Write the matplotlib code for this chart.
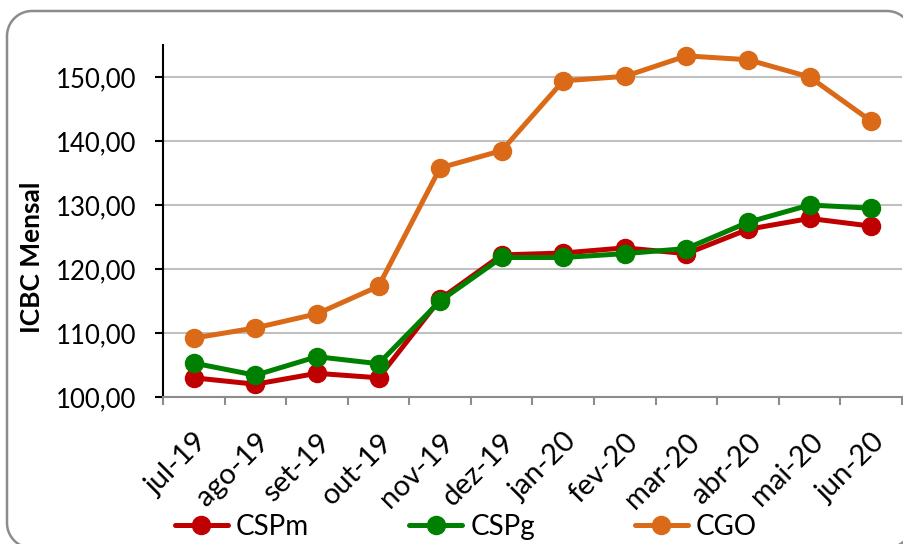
import numpy as np
import matplotlib.pyplot as plt
from matplotlib.lines import Line2D
from matplotlib.ticker import FuncFormatter

# dados do gráfico
meses = ["jul-19", "ago-19", "set-19", "out-19", "nov-19", "dez-19",
         "jan-20", "fev-20", "mar-20", "abr-20", "mai-20", "jun-20"]
cspm = [103.0, 102.0, 103.7, 103.0, 115.3, 122.2, 122.5, 123.3, 122.4, 126.2, 127.9, 126.7]
cspg = [105.3, 103.4, 106.3, 105.2, 115.0, 121.8, 121.8, 122.4, 123.2, 127.3, 130.0, 129.5]
cgo = [109.2, 110.8, 113.0, 117.3, 135.8, 138.5, 149.4, 150.1, 153.3, 152.7, 150.0, 143.1]
yticks = [100, 110, 120, 130, 140, 150]

plt.rcParams['font.family'] = ['Lato', 'DejaVu Sans']

W, H = 904, 544
fig = plt.figure(figsize=(W / 100, H / 100), dpi=100)

# moldura arredondada, em pixels a partir do canto inferior esquerdo
x0, x1, y0, y1, r = 7, 912, -4, 533, 25
bx, by = [], []
for cx, cy, a0 in [(x1 - r, y1 - r, 0), (x0 + r, y1 - r, 90),
                   (x0 + r, y0 + r, 180), (x1 - r, y0 + r, 270)]:
    ang = np.radians(np.linspace(a0, a0 + 90, 20))
    bx.extend(cx + r * np.cos(ang))
    by.extend(cy + r * np.sin(ang))
bx.append(bx[0])
by.append(by[0])
fig.add_artist(Line2D(np.array(bx) / 100, np.array(by) / 100,
                      transform=fig.dpi_scale_trans, color="#8c8c8c", linewidth=1.8))

ax = fig.add_axes([163 / W, 1 - 397 / H, 739 / W, 352 / H])

x = list(range(len(meses)))
estilo = dict(linewidth=3.6, marker="o", markersize=13, solid_capstyle="round")
ax.plot(x, cspm, color="#C00000", label="CSPm", **estilo)
ax.plot(x, cspg, color="#008000", label="CSPg", **estilo)
ax.plot(x, cgo, color="#DA6A18", label="CGO", **estilo)

ax.set_xlim(-0.5, len(meses) - 0.5)
ax.set_ylim(100, 155)
ax.set_yticks(yticks)
ax.yaxis.set_major_formatter(FuncFormatter(lambda v, p: f"{v:.2f}".replace(".", ",")))
ax.grid(axis="y", color="#c0c0c0", linewidth=1.5)
ax.set_axisbelow(True)

ax.set_xticks(x)
ax.set_xticklabels(meses, rotation=45, ha="right", rotation_mode="anchor", fontsize=21)
ax.set_xticks([i - 0.5 for i in range(len(meses) + 1)], minor=True)
ax.tick_params(axis="x", which="major", length=0, pad=23)
ax.tick_params(axis="x", which="minor", length=6, width=1.5, color="#8c8c8c")
ax.tick_params(axis="y", length=6, width=1.5, labelsize=18.5, pad=13)

for s in ["top", "right"]:
    ax.spines[s].set_visible(False)
ax.spines["left"].set_linewidth(1.5)
ax.spines["bottom"].set_color("#8c8c8c")
ax.spines["bottom"].set_linewidth(1.5)

fig.text(32 / W, 1 - 257 / H, "ICBC Mensal", rotation=90, fontsize=19,
         fontweight="bold", ha="center", va="center")

fig.legend(loc="center", bbox_to_anchor=(466 / W, 1 - 527 / H), ncol=3,
           frameon=False, fontsize=20, handlelength=1.9, columnspacing=3.6,
           handletextpad=0.3)

fig.savefig("out.png", dpi=100)
